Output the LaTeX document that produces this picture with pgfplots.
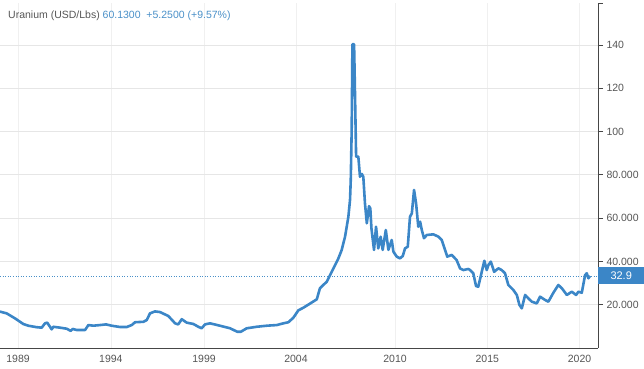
\documentclass[border=0pt]{standalone}
\usepackage{pgfplots}
\pgfplotsset{compat=1.18}
\usepackage{fontspec}
\setmainfont{Liberation Sans}
\definecolor{lineblue}{RGB}{59,134,199}
\definecolor{titleblue}{RGB}{74,144,200}
\definecolor{txtgray}{RGB}{85,85,85}
\definecolor{gridgray}{RGB}{230,230,230}
\definecolor{vgrid}{RGB}{240,240,240}
\definecolor{axgray}{RGB}{70,70,70}
\begin{document}
\begin{tikzpicture}
\useasboundingbox (0,0) rectangle (644bp,369bp);
\begin{axis}[
  at={(0bp,21bp)}, anchor=south west,
  scale only axis, width=598bp, height=345bp,
  xmin=1988.59, xmax=2021.0, ymin=0, ymax=159.35,
  axis x line=bottom, axis y line=right,
  axis line style={-, color=axgray, line width=0.8bp},
  ytick={20,40,60,80,100,120,140},
  yticklabels={20.000,40.000,60.000,80.000,100,120,140},
  xtick={1989.57,1994.6,1999.65,2004.63,2010,2015,2020},
  xticklabels={1989,1994,1999,2004,2010,2015,2020},
  ymajorgrids, xmajorgrids,
  major grid style={gridgray, line width=0.6bp},
  x grid style={vgrid, line width=0.6bp},
  y tick style={axgray, line width=0.6bp},
  major tick length=5bp,
  ytick align=outside, xtick style={draw=none},
  tick label style={font=\fontsize{10.5bp}{12bp}\selectfont, text=txtgray},
  yticklabel style={anchor=west, xshift=0bp},
  xticklabel style={yshift=-1bp},
  clip=false,
]
\addplot[lineblue, line width=2.6bp, line join=round] coordinates {
(1988.59,16.8)(1988.95,16.0)(1989.40,13.7)(1989.85,11.1)(1990.12,10.3)(1990.58,9.6)
(1990.85,9.4)(1991.03,11.4)(1991.15,11.7)(1991.30,9.8)(1991.39,8.6)(1991.48,9.8)
(1991.84,9.4)(1992.21,8.9)(1992.42,7.9)(1992.53,8.8)(1992.75,8.3)(1993.20,8.3)
(1993.38,10.6)(1993.65,10.3)(1994.01,10.6)(1994.34,10.9)(1994.64,10.3)(1995.09,9.7)
(1995.46,9.7)(1995.73,10.6)(1995.91,11.9)(1996.36,12.1)(1996.54,12.9)(1996.72,16.0)
(1996.99,16.9)(1997.26,16.6)(1997.71,14.8)(1998.08,11.4)(1998.25,10.9)(1998.44,13.3)
(1998.71,11.7)(1999.07,11.1)(1999.34,9.8)(1999.52,9.1)(1999.70,10.9)(1999.97,11.4)
(2000.51,10.3)(2001.06,9.1)(2001.45,7.5)(2001.64,7.5)(2001.96,9.1)(2002.50,9.8)
(2003.05,10.3)(2003.59,10.6)(2003.95,11.4)(2004.22,11.9)(2004.49,14.0)(2004.76,17.4)
(2005.03,18.6)(2005.39,20.5)(2005.76,22.5)(2005.93,27.6)(2006.11,29.1)(2006.30,30.6)
(2006.48,33.7)(2006.66,36.8)(2006.93,41.4)(2007.11,45.3)(2007.29,51.4)(2007.47,60.6)
(2007.56,68.4)(2007.60,77.6)(2007.65,100.7)(2007.69,140.3)(2007.78,140.3)(2007.81,127)
(2007.89,88.4)(2008.01,88.4)(2008.10,79.1)(2008.20,80.4)(2008.28,79.1)(2008.37,66.8)
(2008.47,57.6)(2008.59,65.5)(2008.66,64.5)(2008.72,55.3)(2008.86,45.3)(2008.97,56.0)
(2009.09,46.0)(2009.22,51.4)(2009.33,45.3)(2009.50,54.5)(2009.64,45.3)(2009.82,49.9)
(2009.91,44.5)(2010.09,42.2)(2010.27,41.4)(2010.42,42.5)(2010.54,46.0)(2010.69,46.8)
(2010.81,60.6)(2010.91,62.2)(2011.03,73.0)(2011.14,66.8)(2011.26,56.0)(2011.36,58.3)
(2011.45,54.5)(2011.57,50.7)(2011.72,52.2)(2012.08,52.5)(2012.35,51.4)(2012.53,49.9)
(2012.71,45.3)(2012.83,42.2)(2013.07,43.0)(2013.34,40.6)(2013.52,36.8)(2013.70,36.0)
(2013.97,36.5)(2014.07,36.0)(2014.24,34.5)(2014.39,28.6)(2014.51,28.3)(2014.70,35.2)
(2014.84,40.3)(2014.97,36.0)(2015.06,38.3)(2015.19,39.9)(2015.37,35.2)(2015.60,36.8)
(2015.78,36.0)(2015.96,34.5)(2016.14,29.1)(2016.41,26.8)(2016.60,24.5)(2016.74,19.9)
(2016.87,18.3)(2017.05,24.5)(2017.22,23.0)(2017.41,21.4)(2017.68,20.6)(2017.86,23.7)
(2018.13,22.2)(2018.31,21.4)(2018.58,25.5)(2018.85,29.1)(2019.04,27.6)(2019.31,24.5)
(2019.58,26.0)(2019.81,24.5)(2019.94,26.0)(2020.12,25.5)(2020.30,33.7)(2020.39,34.5)
(2020.48,32.2)(2020.57,33.3)
};
\addplot[titleblue, line width=0.6bp, dotted] coordinates {(1988.59,32.9)(2021.0,32.9)};
\node[fill=lineblue, text=white, anchor=west, minimum width=46bp, minimum height=17bp, inner sep=0pt,
  font=\fontsize{11bp}{12bp}\selectfont] at (axis cs:2021.0,33.5) {32.9};
\draw[axgray, line width=0.8bp] (rel axis cs:1,1) -- ([xshift=5bp]rel axis cs:1,1);
\end{axis}
\node[anchor=west, inner sep=0pt, font=\fontsize{10.5bp}{12bp}\selectfont] at (8bp,353bp)
  {\textcolor{txtgray}{Uranium (USD/Lbs)} \textcolor{titleblue}{60.1300\ \ +5.2500 (+9.57\%)}};
\end{tikzpicture}
\end{document}
